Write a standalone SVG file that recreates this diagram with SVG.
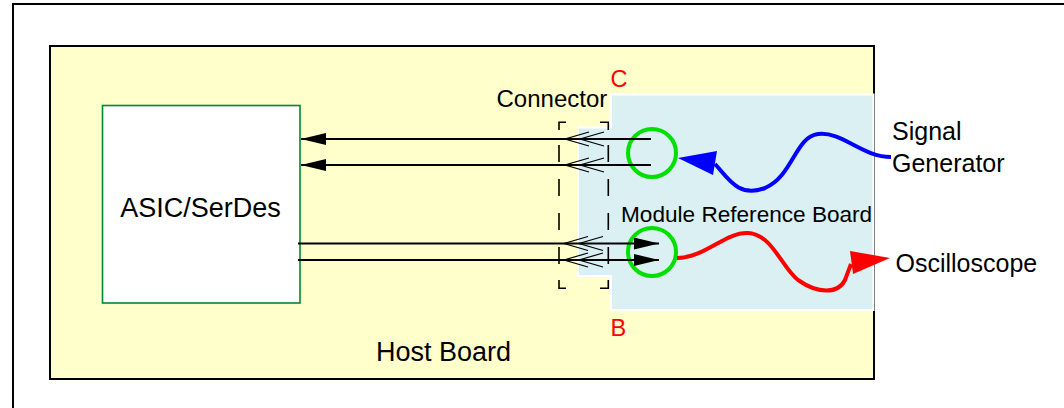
<svg xmlns="http://www.w3.org/2000/svg" width="1064" height="408" viewBox="0 0 1064 408">
<style>
text { font-family: "Liberation Sans", Arial, sans-serif; fill: #000; }
.lbl { font-size: 24px; }
.ext { font-size: 25px; }
.red { fill: #FF0000; font-size: 23.5px; }
.wire { stroke: #000; stroke-width: 2; fill: none; }
.chev { stroke: #000; stroke-width: 1.2; fill: none; }
.probe { fill: none; stroke: #00E000; stroke-width: 4; }
.dash { stroke: #000; stroke-width: 1.6; fill: none; }
</style>
<defs>
<marker id="ah" markerUnits="userSpaceOnUse" markerWidth="25" markerHeight="12" refX="25" refY="6" orient="auto" viewBox="0 0 25 12">
<path d="M0,0 L25,6 L0,12 Z" fill="#000"/>
</marker>
</defs>
<rect x="0" y="0" width="1064" height="408" fill="#fff"/>
<g id="frame">
<path d="M13,420 V4 H1080" fill="none" stroke="#000" stroke-width="2"/>
</g>
<g id="host-board">
<rect x="50" y="46" width="824" height="333" fill="#FFFFCC" stroke="#000" stroke-width="2"/>
<text x="443.5" y="361" text-anchor="middle" style="font-size:27px">Host Board</text>
</g>
<g id="asic">
<rect x="102.5" y="105.5" width="197.5" height="197.5" fill="#fff" stroke="#008833" stroke-width="1.6"/>
<text x="200.5" y="217" text-anchor="middle" style="font-size:27px">ASIC/SerDes</text>
</g>
<g id="module-board">
<polygon points="611,94.5 873.5,94.5 873.5,310 611,310 611,276 578,276 578,127.5 611,127.5" fill="#DAF0F2" stroke="#fff" stroke-width="2"/>
<text x="621" y="222" style="font-size:22.6px">Module Reference Board</text>
</g>
<g id="connector">
<path class="dash" d="M559,130 V122.3 H566 M600,122.3 H608.3 V130 M559,280 V288.3 H566 M600,288.3 H608.3 V280"/>
<path class="dash" d="M559,145 V264 M608.3,145 V264" stroke-dasharray="17 17"/>
<text class="lbl" x="496.5" y="107">Connector</text>
</g>
<g id="probe-c">
<circle class="probe" cx="652" cy="153" r="24"/>
<text class="red" x="610.5" y="87">C</text>
</g>
<g id="probe-b">
<circle class="probe" cx="652" cy="252" r="24"/>
<text class="red" x="610.5" y="336">B</text>
</g>
<g id="signal-generator">
<text class="ext" x="892" y="140">Signal</text>
<text class="ext" x="892" y="172">Generator</text>
</g>
<g id="oscilloscope">
<text class="ext" x="895.5" y="272">Oscilloscope</text>
</g>
<g id="connectors">
<path class="wire" d="M651,139 H301" marker-end="url(#ah)"/>
<path class="wire" d="M651,165 H301" marker-end="url(#ah)"/>
<path class="wire" d="M298,243.5 H659" marker-end="url(#ah)"/>
<path class="wire" d="M298,260 H659" marker-end="url(#ah)"/>
<polyline class="chev" points="589,132 565,139 589,146"/>
<polyline class="chev" points="604,132 580,139 604,146"/>
<polyline class="chev" points="589,158 565,165 589,172"/>
<polyline class="chev" points="604,158 580,165 604,172"/>
<polyline class="chev" points="588,236.5 564,243.5 588,250.5"/>
<polyline class="chev" points="603,236.5 579,243.5 603,250.5"/>
<polyline class="chev" points="588,253 564,260 588,267"/>
<polyline class="chev" points="603,253 579,260 603,267"/>
<path d="M891,157 C862,157 842,131 818,134 C795,137 793,176 765,188 C738,198 728,178 715,164" fill="none" stroke="#0000FF" stroke-width="4"/>
<polygon points="678,158 717,151 713,175" fill="#0000FF"/>
<path d="M677,258 C705,258 725,232 748,233 C772,234 782,268 798,280 C818,294 838,294 845,280 L851,264" fill="none" stroke="#FF0000" stroke-width="4"/>
<polygon points="890,258 850,251 853,274" fill="#FF0000"/>
</g>
</svg>
